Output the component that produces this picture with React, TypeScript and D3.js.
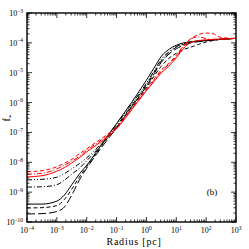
import React from 'react';
import * as d3 from 'd3';

// log10(radius / pc) sample points shared by every curve
const logRadius = [-4, -3.5, -3, -2.75, -2.5, -2.25, -2, -1.5, -1, -0.5, 0, 0.25, 0.5, 0.75, 1, 1.25, 1.5, 1.75, 2, 2.25, 2.5, 3];

// log10(f*)
const blackSolid = [-9.40, -9.40, -9.30, -9.10, -8.75, -8.40, -8.10, -7.40, -6.70, -6.00, -5.25, -4.85, -4.45, -4.22, -4.08, -4.00, -3.96, -3.94, -3.92, -3.90, -3.88, -3.85];
const blackDashed = [-9.53, -9.52, -9.45, -9.25, -8.90, -8.50, -8.15, -7.45, -6.82, -6.15, -5.50, -5.12, -4.78, -4.52, -4.35, -4.22, -4.14, -4.05, -3.97, -3.92, -3.88, -3.85];
const blackLongDash = [-9.73, -9.72, -9.65, -9.50, -9.10, -8.60, -8.20, -7.50, -6.85, -6.15, -5.45, -5.05, -4.65, -4.38, -4.20, -4.08, -4.00, -3.96, -3.93, -3.90, -3.88, -3.85];
const blackDotDash = [-8.83, -8.82, -8.75, -8.60, -8.40, -8.20, -7.95, -7.40, -6.78, -6.10, -5.40, -5.00, -4.60, -4.33, -4.15, -4.05, -3.98, -3.94, -3.92, -3.90, -3.88, -3.85];
const blackDashDotDot = [-8.59, -8.57, -8.50, -8.38, -8.22, -8.05, -7.85, -7.35, -6.72, -6.05, -5.35, -4.95, -4.55, -4.30, -4.12, -4.03, -3.97, -3.94, -3.92, -3.90, -3.88, -3.85];
const redSolid = [-8.49, -8.45, -8.30, -8.18, -8.02, -7.85, -7.65, -7.30, -6.88, -6.25, -5.60, -5.30, -5.00, -4.78, -4.50, -4.18, -3.98, -3.92, -3.90, -3.88, -3.87, -3.85];
const redDashed = [-8.32, -8.28, -8.15, -8.03, -7.90, -7.72, -7.55, -7.20, -6.82, -6.20, -5.55, -5.22, -4.90, -4.68, -4.42, -4.08, -3.85, -3.72, -3.67, -3.70, -3.82, -3.85];
const redDotDash = [-8.40, -8.37, -8.22, -8.10, -7.96, -7.80, -7.60, -7.25, -6.85, -6.22, -5.58, -5.26, -4.95, -4.72, -4.46, -4.12, -3.86, -3.80, -3.86, -3.90, -3.88, -3.85];

const xExponents = [-4, -3, -2, -1, 0, 1, 2, 3];
const yExponents = [-10, -9, -8, -7, -6, -5, -4, -3];

const series = [
  { values: blackSolid, color: '#000', dash: '' },
  { values: blackDashed, color: '#000', dash: '4,2.5' },
  { values: blackLongDash, color: '#000', dash: '8,3' },
  { values: blackDotDash, color: '#000', dash: '5,2,1,2' },
  { values: blackDashDotDot, color: '#000', dash: '5,2,1,2,1,2' },
  { values: redDashed, color: '#f00', dash: '4,2.5' },
  { values: redDotDash, color: '#f00', dash: '5,2,1,2' },
  { values: redSolid, color: '#f00', dash: '' },
];

const left = 27, right = 236, top = 13, bottom = 222;
const font = '"Liberation Serif", "DejaVu Serif", serif';

const App: React.FC = () => {
  const x = d3.scaleLog().domain([1e-4, 1e3]).range([left, right]);
  const y = d3.scaleLog().domain([1e-10, 1e-3]).range([bottom, top]);

  const line = d3.line<number>()
    .x((_, i) => x(Math.pow(10, logRadius[i])))
    .y(d => y(Math.pow(10, d)))
    .curve(d3.curveMonotoneX);

  const minor = (exps: number[]) => {
    const out: { v: number; major: boolean }[] = [];
    exps.forEach((e, i) => {
      out.push({ v: Math.pow(10, e), major: true });
      if (i < exps.length - 1) for (let k = 2; k <= 9; k++) out.push({ v: k * Math.pow(10, e), major: false });
    });
    return out;
  };
  const xTicks = minor(xExponents);
  const yTicks = minor(yExponents);

  return (
    <svg width={249} height={249} style={{ position: 'absolute', left: 0, top: 0, background: '#fff' }}>
      <g fill="none" strokeWidth={1}>
        {series.map((s, i) => (
          <path key={i} d={line(s.values) || ''} stroke={s.color} strokeDasharray={s.dash} />
        ))}
      </g>
      <g stroke="#000" strokeWidth={0.8}>
        {xTicks.map((t, i) => {
          const px = x(t.v);
          const len = t.major ? 5 : 2.5;
          return (
            <g key={'x' + i}>
              <line x1={px} x2={px} y1={bottom} y2={bottom - len} />
              <line x1={px} x2={px} y1={top} y2={top + len} />
            </g>
          );
        })}
        {yTicks.map((t, i) => {
          const py = y(t.v);
          const len = t.major ? 5 : 2.5;
          return (
            <g key={'y' + i}>
              <line x1={left} x2={left + len} y1={py} y2={py} />
              <line x1={right} x2={right - len} y1={py} y2={py} />
            </g>
          );
        })}
      </g>
      <rect x={left} y={top} width={right - left} height={bottom - top} fill="none" stroke="#000" strokeWidth={1.4} />
      <g fontFamily={font} fontSize={8} fill="#000">
        {xExponents.map(e => (
          <text key={'xl' + e} x={x(Math.pow(10, e))} y={233} textAnchor="middle">
            10<tspan dy={-3.5} fontSize={5.5}>{e < 0 ? '\u2212' + -e : e}</tspan>
          </text>
        ))}
        {yExponents.map(e => (
          <text key={'yl' + e} x={23} y={y(Math.pow(10, e)) + 3} textAnchor="end">
            10<tspan dy={-3.5} fontSize={5.5}>{'\u2212' + -e}</tspan>
          </text>
        ))}
      </g>
      <text x={134} y={245} textAnchor="middle" fontFamily={font} fontSize={10} letterSpacing={0.8}>Radius [pc]</text>
      <text x={212} y={195} textAnchor="middle" fontFamily={font} fontSize={9}>(b)</text>
      <text transform="translate(10,118) rotate(-90)" textAnchor="middle" fontFamily={font} fontSize={10}>
        f<tspan dy={2.5} fontSize={7}>*</tspan>
      </text>
    </svg>
  );
};

export default App;
